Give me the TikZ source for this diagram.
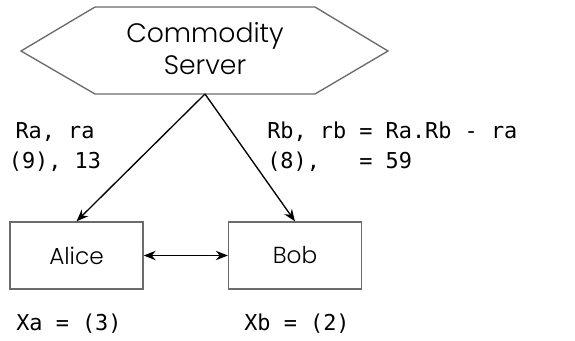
\documentclass[tikz,border=0pt]{standalone}
\usepackage{fontspec}
\setmainfont{Poppins}[UprightFont=*-Light]
\setmonofont{DejaVu Sans Mono}
\usetikzlibrary{arrows.meta}
\definecolor{edge}{HTML}{6B6B6B}
\begin{document}
\begin{tikzpicture}[x=0.75pt,y=-0.75pt,
  shapeline/.style={draw=edge,line width=1pt},
  party/.style={shapeline,minimum width=99.75pt,minimum height=50.25pt,inner sep=0pt,
    font=\fontsize{17.4pt}{20pt}\selectfont},
  link/.style={line width=1pt,-{Stealth[length=9pt,width=7pt]}},
  code/.style={font=\ttfamily\fontsize{16.4pt}{22.5pt}\selectfont,inner sep=0pt}]
  \useasboundingbox (0,0) rectangle (575,340);
  % server hexagon
  \draw[shapeline,fill=white] (21,51) -- (95,7) -- (315,7) -- (388,51) -- (315,94) -- (95,94) -- cycle;
  \node[align=center,font=\fontsize{20pt}{24pt}\selectfont] (server) at (205,49) {Commodity\\Server};
  \coordinate (apex) at (205,94);
  % parties
  \node[party] (alice) at (76.5,255.5) {Alice};
  \node[party] (bob) at (295,255.5) {Bob};
  % connectors
  \draw[link] (apex) -- (alice.north);
  \draw[link] (apex) -- (bob.north);
  \draw[link,{Stealth[length=9pt,width=7pt]}-{Stealth[length=9pt,width=7pt]}] (alice.east) -- (bob.west);
  % labels
  \node[code,align=center] (lefttxt) at (55,147) {Ra, ra\\(9), 13};
  \node[code,align=left,anchor=west] (righttxt) at (267,147) {Rb, rb = Ra.Rb - ra\\(8),~~~= 59};
  \node[code,anchor=west] (xa) at (16,324) {Xa = (3)};
  \node[code,anchor=west] (xb) at (244,324) {Xb = (2)};
\end{tikzpicture}
\end{document}
